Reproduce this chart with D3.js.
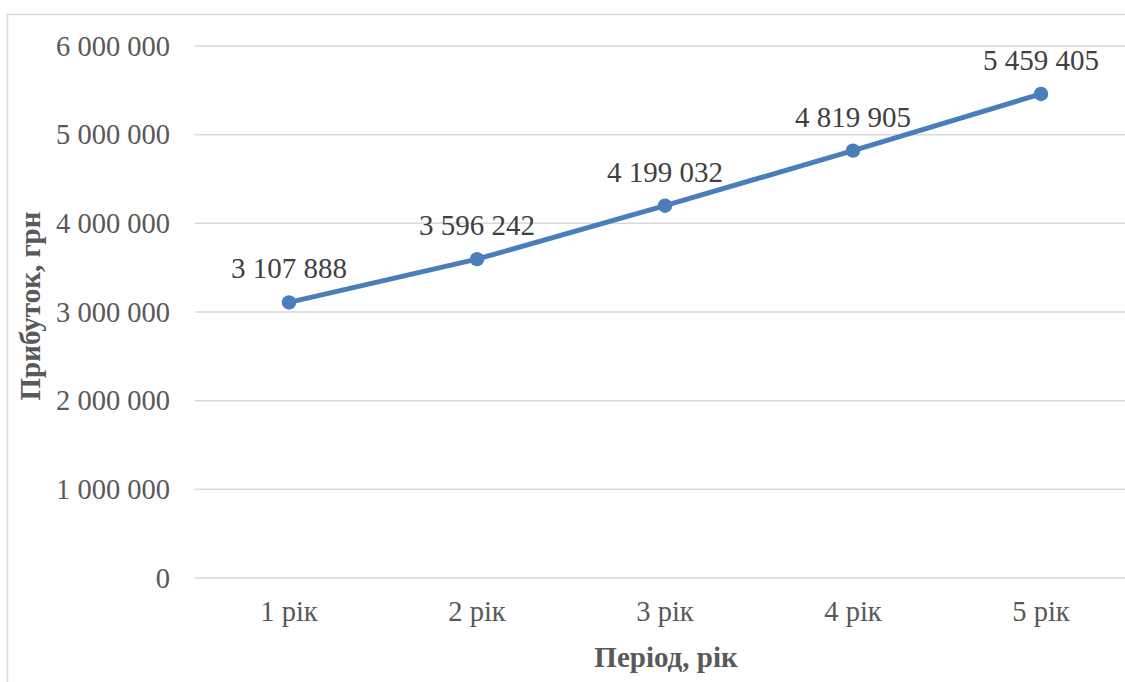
<!DOCTYPE html>
<html>
<head>
<meta charset="utf-8">
<script src="https://cdn.jsdelivr.net/npm/d3@7"></script>
<style>
  body { margin: 0; background: #fff; }
  svg { display: block; }
  text { font-family: "Liberation Serif", "Times New Roman", serif; }
</style>
</head>
<body>
<div id="chart"></div>
<script>
// chart values
let periods = ["1 рік", "2 рік", "3 рік", "4 рік", "5 рік"];
let profit = [3107888, 3596242, 4199032, 4819905, 5459405];
let yTicks = [0, 1000000, 2000000, 3000000, 4000000, 5000000, 6000000];

let width = 1125, height = 682;
let margin = {top: 46, left: 195, right: -10, bottom: 104};
let serif = "'Liberation Serif', 'Times New Roman', serif";

let svg = d3.select("#chart").append("svg")
    .attr("width", width)
    .attr("height", height);

// chart border
svg.append("rect")
    .attr("x", 7.5)
    .attr("y", 14.5)
    .attr("width", 1200)
    .attr("height", 800)
    .attr("fill", "none")
    .attr("stroke", "#d9d9d9")
    .attr("stroke-width", 1.5);

let g = svg.append("g")
    .attr("transform", "translate(" + margin.left + "," + margin.top + ")");

let w = width - margin.left - margin.right;
let h = height - margin.top - margin.bottom;

let x = d3.scaleBand()
    .domain(periods)
    .range([0, w]);

let y = d3.scaleLinear()
    .domain([0, 6000000])
    .range([h, 0]);

let fmt = d => d3.format(",")(d).replace(/,/g, " ");

// gridlines
g.selectAll("line.grid")
    .data(yTicks)
    .enter()
    .append("line")
    .attr("class", "grid")
    .attr("x1", 0)
    .attr("x2", w)
    .attr("y1", d => y(d))
    .attr("y2", d => y(d))
    .attr("stroke", "#d9d9d9")
    .attr("stroke-width", 1.5);

// y axis
let yAxis = d3.axisLeft(y)
    .tickValues(yTicks)
    .tickSize(0)
    .tickPadding(25)
    .tickFormat(fmt);

g.append("g")
    .call(yAxis)
    .attr("font-family", serif)
    .attr("font-size", 28.5)
    .call(a => a.select(".domain").remove())
    .selectAll("text")
    .attr("fill", "#595959");

// x axis
let xAxis = d3.axisBottom(x)
    .tickSize(0)
    .tickPadding(23);

g.append("g")
    .attr("transform", "translate(0," + h + ")")
    .call(xAxis)
    .attr("font-family", serif)
    .attr("font-size", 28.5)
    .call(a => a.select(".domain").remove())
    .selectAll("text")
    .attr("fill", "#595959");

// line
let cx = (d, i) => x(periods[i]) + x.bandwidth() / 2;

let line = d3.line()
    .x(cx)
    .y(d => y(d));

g.append("path")
    .datum(profit)
    .attr("d", line)
    .attr("fill", "none")
    .attr("stroke", "#4a7ebb")
    .attr("stroke-width", 5)
    .attr("stroke-linejoin", "round");

g.selectAll("circle.pt")
    .data(profit)
    .enter()
    .append("circle")
    .attr("class", "pt")
    .attr("cx", cx)
    .attr("cy", d => y(d))
    .attr("r", 7.2)
    .attr("fill", "#4a7ebb");

// data labels
g.selectAll("text.lbl")
    .data(profit)
    .enter()
    .append("text")
    .attr("class", "lbl")
    .attr("x", cx)
    .attr("y", d => y(d) - 24)
    .attr("text-anchor", "middle")
    .attr("fill", "#404040")
    .attr("font-family", serif)
    .attr("font-size", 29)
    .text(fmt);

// axis titles
svg.append("text")
    .attr("x", 666)
    .attr("y", 667)
    .attr("text-anchor", "middle")
    .attr("fill", "#595959")
    .attr("font-family", serif)
    .attr("font-size", 29)
    .attr("font-weight", "bold")
    .text("Період, рік");

svg.append("text")
    .attr("transform", "translate(40,306) rotate(-90)")
    .attr("text-anchor", "middle")
    .attr("fill", "#595959")
    .attr("font-family", serif)
    .attr("font-size", 29)
    .attr("font-weight", "bold")
    .text("Прибуток, грн");
</script>
</body>
</html>
